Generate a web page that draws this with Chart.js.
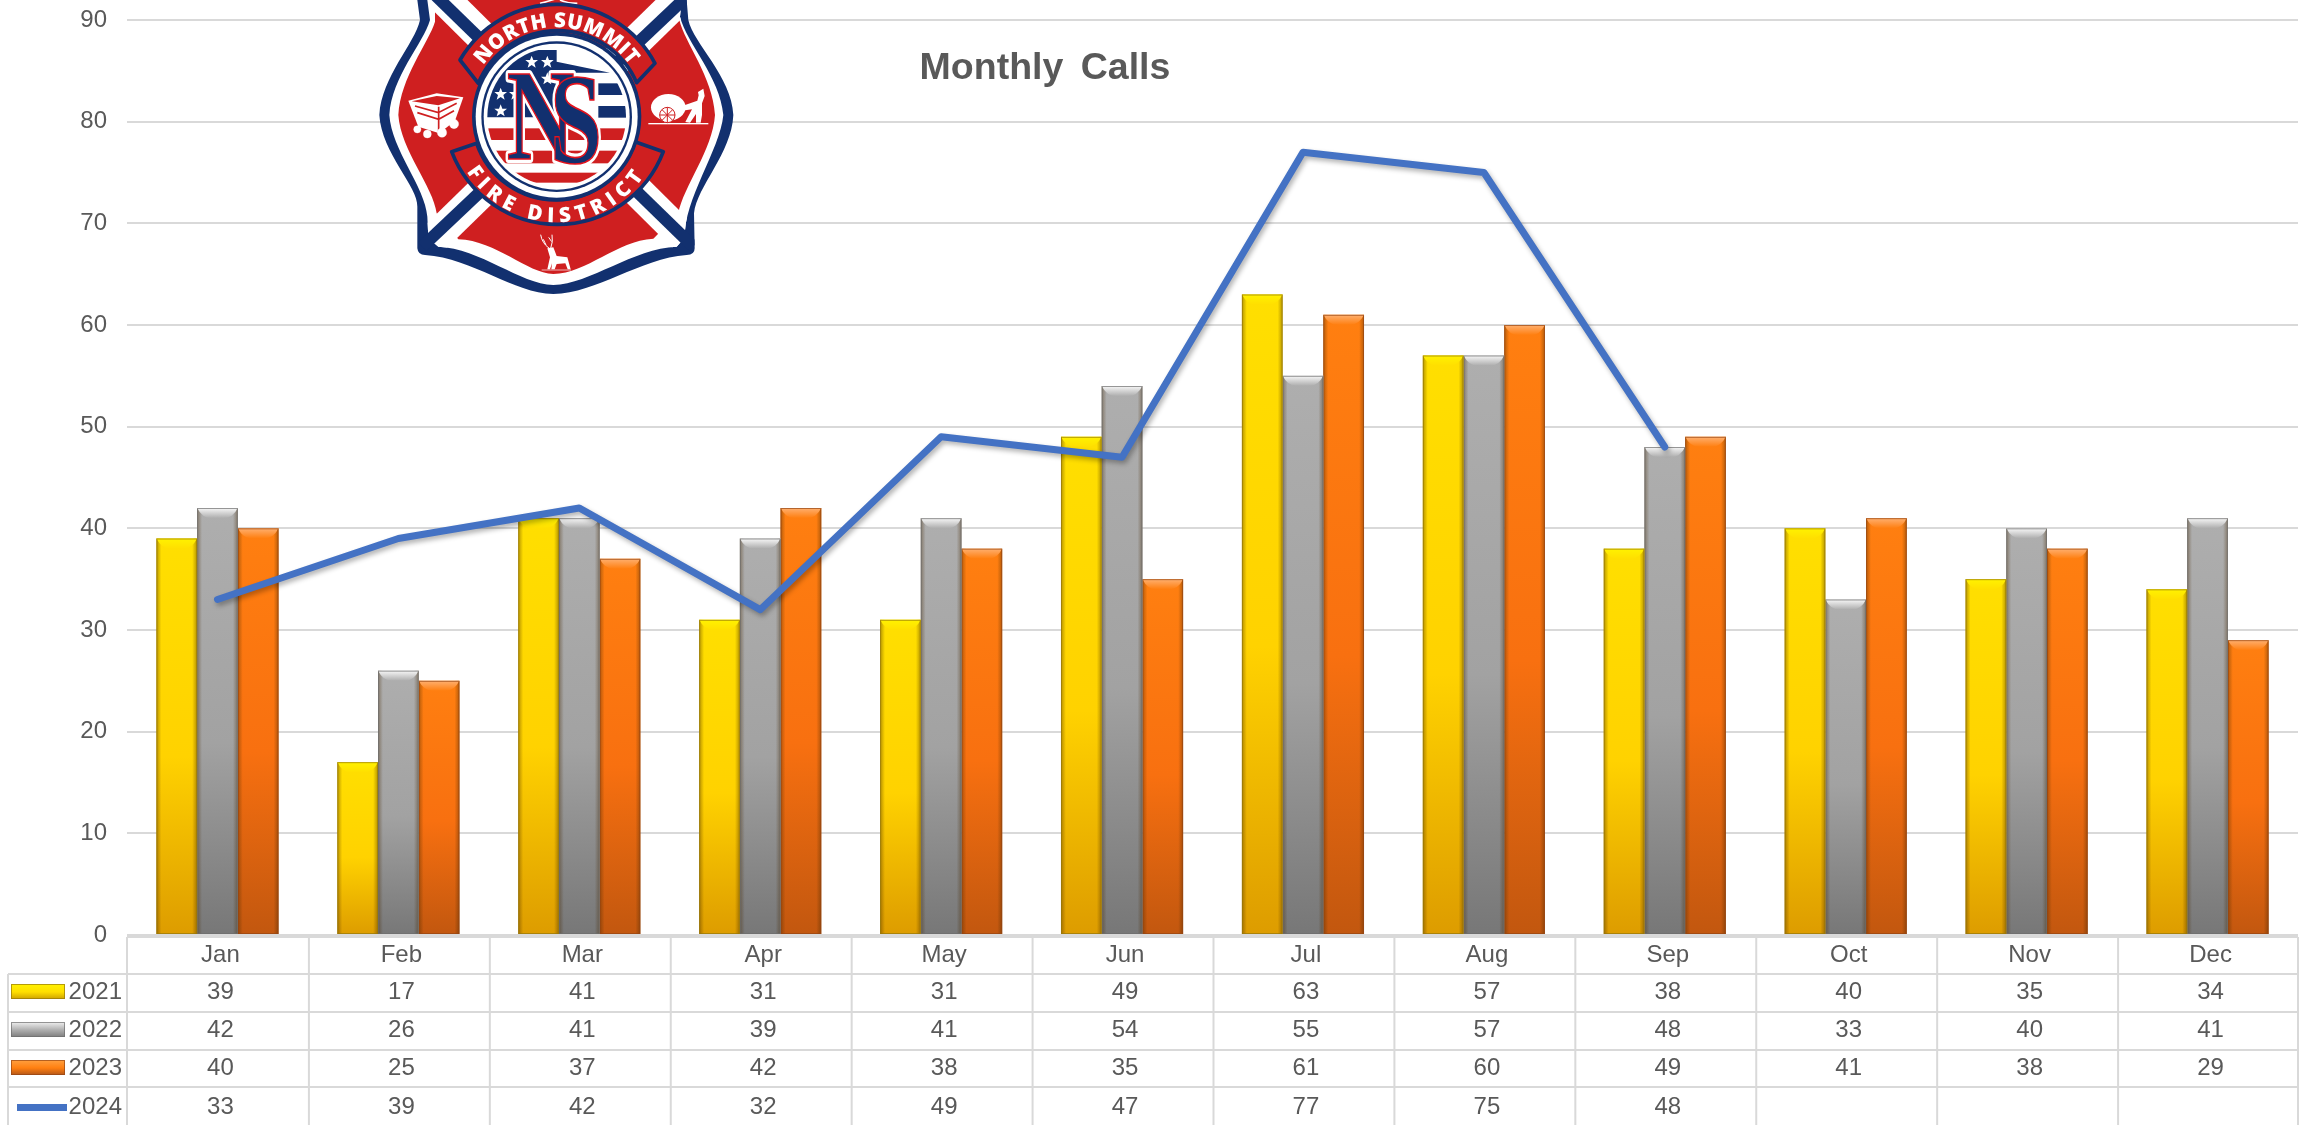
<!DOCTYPE html>
<html>
<head>
<meta charset="utf-8">
<title>Monthly Calls</title>
<script src="https://cdn.jsdelivr.net/npm/chart.js@4"></script>
<style>
    html, body { margin: 0; padding: 0; background: #fff; overflow: hidden; }
    #wrap { position: relative; width: 2305px; height: 1125px; }
    #callsChart { position: absolute; left: 0; top: 0; }
    #badge { position: absolute; left: 340px; top: 0; width: 450px; height: 310px; }
</style>
</head>
<body>
<div id="wrap">
<canvas id="callsChart" width="2305" height="1125"></canvas>

<!-- district badge -->
<svg id="badge" viewBox="0 0 1350 930" xmlns="http://www.w3.org/2000/svg">
    <defs>
        <path id="outerShape" d="M232,0 L240,60 C225,130 125,230 118,345 C125,460 235,560 232,620 L232,745 Q234,765 255,765 C400,775 520,880 640,882 C770,880 900,775 1040,765 Q1064,765 1064,745 L1062,640 C1070,560 1175,460 1180,345 C1175,230 1060,130 1045,60 L1040,0 Z"/>
        <path id="whiteShape" d="M262,0 L270,60 C250,130 155,230 148,345 C155,450 255,560 262,650 L265,715 L295,740 C420,745 540,852 640,855 C750,852 880,745 1010,740 L1035,712 C1030,600 1140,450 1150,345 C1140,230 1040,130 1020,50 L1025,0 Z"/>
        <clipPath id="outerClip"><use href="#outerShape"/></clipPath>
        <clipPath id="whiteClip"><use href="#whiteShape"/></clipPath>
        <clipPath id="flagClip"><circle cx="650" cy="350" r="208"/></clipPath>
        <polygon id="star" points="0,-19 5,-6 19,-6 8,3 12,17 0,9 -12,17 -8,3 -19,-6 -5,-6" fill="#fff"/>
        <path id="topArc" d="M391,281 A268,268 0 0 1 909,281" fill="none"/>
        <path id="bottomArc" d="M336,377 A315,315 0 0 0 964,377" fill="none"/>
    </defs>

    <use href="#outerShape" fill="#12306f"/>
    <use href="#whiteShape" fill="#fff"/>
    <path fill="#cf1f20" d="M285,0 L285,65 C265,130 182,230 175,345 C182,450 280,560 290,640 L355,718 C470,722 560,820 640,822 C740,820 830,722 940,716 L1015,640 C1030,560 1118,450 1125,345 C1118,230 1035,130 1018,60 L1018,0 Z"/>

    <g fill="none" clip-path="url(#whiteClip)">
        <path d="M300,-15 L1050,730" stroke="#fff" stroke-width="95"/>
        <path d="M1030,-15 L262,735" stroke="#fff" stroke-width="95"/>
    </g>
    <g fill="none" clip-path="url(#outerClip)">
        <path d="M285,-15 L1060,740" stroke="#12306f" stroke-width="36"/>
        <path d="M1045,-15 L247,740" stroke="#12306f" stroke-width="36"/>
    </g>

    <!-- antler tip cut by the top edge -->
    <path d="M600,10 Q640,0 650,-5 M660,0 Q680,10 712,10" stroke="#fff" stroke-width="5" fill="none"/>

    <!-- ribbons -->
    <path d="M360,180 A335,335 0 0 1 945,190 L890,248 A258,258 0 0 0 415,250 Z" fill="#cf1f20" stroke="#12306f" stroke-width="11" stroke-linejoin="round"/>
    <path d="M335,455 A340,340 0 0 0 970,455 L885,425 A250,250 0 0 1 410,430 Z" fill="#cf1f20" stroke="#12306f" stroke-width="11" stroke-linejoin="round"/>

    <!-- centre seal -->
    <circle cx="650" cy="350" r="254" fill="#12306f"/>
    <circle cx="650" cy="350" r="243" fill="#fff"/>
    <circle cx="650" cy="350" r="226" fill="#12306f"/>
    <circle cx="650" cy="350" r="219" fill="#fff"/>

    <text font-family="'Open Sans', 'Liberation Sans', sans-serif" font-weight="800" font-size="62" fill="#fff" text-anchor="middle" letter-spacing="1">
        <textPath href="#topArc" startOffset="50%">NORTH SUMMIT</textPath>
    </text>
    <text font-family="'Open Sans', 'Liberation Sans', sans-serif" font-weight="800" font-size="62" fill="#fff" text-anchor="middle" letter-spacing="17">
        <textPath href="#bottomArc" startOffset="50%">FIRE DISTRICT</textPath>
    </text>

    <g clip-path="url(#flagClip)">
        <rect x="440" y="385" width="420" height="35" fill="#cf1f20"/>
        <rect x="440" y="452" width="420" height="38" fill="#cf1f20"/>
        <rect x="440" y="518" width="420" height="30" fill="#cf1f20"/>
        <path d="M440,150 L650,150 L650,185 L810,218 L650,218 L650,352 L440,352 Z" fill="#12306f"/>
        <rect x="775" y="250" width="90" height="35" fill="#12306f"/>
        <rect x="775" y="318" width="90" height="35" fill="#12306f"/>
        <use href="#star" x="575" y="186"/>
        <use href="#star" x="622" y="186"/>
        <use href="#star" x="622" y="236"/>
        <use href="#star" x="482" y="282"/>
        <use href="#star" x="526" y="282"/>
        <use href="#star" x="482" y="332"/>
    </g>
    <g font-family="'Liberation Serif', serif" font-weight="700" font-size="390">
        <text transform="translate(500,478) scale(0.72,1)" fill="#fff" stroke="#fff" stroke-width="24" stroke-linejoin="round">N</text>
        <text transform="translate(630,488) scale(0.72,1)" fill="#fff" stroke="#fff" stroke-width="24" stroke-linejoin="round">S</text>
        <text transform="translate(500,478) scale(0.72,1)" fill="#12306f" stroke="#e3121c" stroke-width="5">N</text>
        <text transform="translate(630,488) scale(0.72,1)" fill="#12306f" stroke="#e3121c" stroke-width="5">S</text>
    </g>

    <!-- mine cart -->
    <g fill="#fff" stroke="#fff">
        <path d="M205,302 L290,280 L370,292 L345,362 L298,400 L235,380 Z" stroke="none"/>
        <path d="M225,318 L295,338 L350,310 M232,338 L296,358 L342,332 M296,320 L296,395" stroke="#cf1f20" stroke-width="5" fill="none"/>
        <path d="M215,304 L290,288 L360,295 L295,316 Z" fill="#cf1f20" stroke="none"/>
        <circle cx="232" cy="388" r="11"/><circle cx="262" cy="402" r="12"/>
        <circle cx="306" cy="398" r="14"/><circle cx="342" cy="372" r="14"/>
    </g>

    <!-- man pulling cart -->
    <g fill="#fff">
        <ellipse cx="985" cy="322" rx="52" ry="40"/>
        <path d="M1020,320 L1072,302 L1076,286 L1074,276 L1090,266 L1094,288 L1086,310 L1086,345 L1082,368 L1068,368 L1068,342 L1050,368 L1036,366 L1056,328 L1026,332 Z"/>
        <rect x="925" y="369" width="180" height="4"/>
        <g stroke="#cf1f20" stroke-width="3" fill="none">
            <circle cx="982" cy="345" r="23" fill="#fff"/>
            <path d="M982,322 L982,368 M959,345 L1005,345 M966,329 L998,361 M998,329 L966,361"/>
        </g>
    </g>

    <!-- deer -->
    <g fill="#fff" stroke="#fff">
        <path d="M622,745 L640,742 L650,768 L682,772 L692,808 L683,808 L676,790 L650,792 L644,808 L634,808 L636,790 L630,808 L622,808 L630,772 Z" stroke="none"/>
        <path d="M628,745 Q606,730 602,704 M618,735 L610,718 M632,745 Q640,725 636,704 M635,725 L626,712" stroke-width="3" fill="none"/>
        <rect x="605" y="809" width="88" height="2" stroke="none"/>
    </g>
</svg>
</div>

<script>
const months = ["Jan","Feb","Mar","Apr","May","Jun","Jul","Aug","Sep","Oct","Nov","Dec"];

const calls2021 = [39,17,41,31,31,49,63,57,38,40,35,34];
const calls2022 = [42,26,41,39,41,54,55,57,48,33,40,41];
const calls2023 = [40,25,37,42,38,35,61,60,49,41,38,29];
const calls2024 = [33,39,42,32,49,47,77,75,48,null,null,null];

const yTicks = [0,10,20,30,40,50,60,70,80,90];

const GRID = "#d9d9d9";
const TEXT = "#595959";
const FONT = "'Liberation Sans', Arial, sans-serif";

// colours for each bar series: gradient stops, top cap, edge
const barStyles = [
    { stops: ["#ffdf00","#ffd200","#dd9c00"], cap: "#fff200", edge: "rgba(150,120,10,0.7)", key: ["#fff200","#c79a00"] },
    { stops: ["#aeaeae","#a2a2a2","#777777"], cap: "#f8f8f8", edge: "rgba(110,110,110,0.7)", key: ["#f0f0f0","#777777"] },
    { stops: ["#ff7f10","#f87010","#c2570f"], cap: "#ffb070", edge: "rgba(150,70,20,0.7)", key: ["#ffa040","#a8501a"] }
];

// the first three rows of the table are the bars, the last one the line
const rows = [
    { label: "2021", values: calls2021 },
    { label: "2022", values: calls2022 },
    { label: "2023", values: calls2023 },
    { label: "2024", values: calls2024 }
];

function barFill(styleIndex){
    return context => {
        const chart = context.chart;
        const s = barStyles[styleIndex];
        if(!chart.chartArea || context.raw == null){
            return s.stops[0];
        }
        const top = chart.scales.y.getPixelForValue(context.raw);
        const bottom = chart.scales.y.getPixelForValue(0);
        const g = chart.ctx.createLinearGradient(0, top, 0, bottom);
        g.addColorStop(0, s.stops[0]);
        g.addColorStop(0.55, s.stops[1]);
        g.addColorStop(1, s.stops[2]);
        return g;
    };
}

// bevel on top of each bar and soft shadow under the line
const bevelPlugin = {
    id: "bevel",
    beforeDatasetDraw(chart, args){
        if(args.meta.type === "line"){
            const ctx = chart.ctx;
            ctx.save();
            ctx.shadowColor = "rgba(0,0,0,0.3)";
            ctx.shadowBlur = 5;
            ctx.shadowOffsetX = 2;
            ctx.shadowOffsetY = 3;
        }
    },
    afterDatasetDraw(chart, args){
        const ctx = chart.ctx;
        if(args.meta.type === "line"){
            ctx.restore();
            return;
        }
        const s = barStyles[args.index];
        args.meta.data.forEach(bar => {
            const left = bar.x - bar.width / 2;
            const right = bar.x + bar.width / 2;
            const top = bar.y;
            const bottom = bar.base;

            const side = ctx.createLinearGradient(left, 0, right, 0);
            side.addColorStop(0, "rgba(70,40,0,0.4)");
            side.addColorStop(0.12, "rgba(70,40,0,0)");
            side.addColorStop(0.88, "rgba(70,40,0,0)");
            side.addColorStop(1, "rgba(70,40,0,0.4)");
            ctx.fillStyle = side;
            ctx.fillRect(left, top, bar.width, bottom - top);

            const cap = ctx.createLinearGradient(0, top, 0, top + 10);
            cap.addColorStop(0, s.cap);
            cap.addColorStop(1, s.stops[0]);
            ctx.fillStyle = cap;
            ctx.beginPath();
            ctx.moveTo(left, top);
            ctx.lineTo(right, top);
            ctx.quadraticCurveTo(right - 5, top + 10, right - 14, top + 10);
            ctx.lineTo(left + 14, top + 10);
            ctx.quadraticCurveTo(left + 5, top + 10, left, top);
            ctx.fill();

            ctx.strokeStyle = s.edge;
            ctx.lineWidth = 1;
            ctx.strokeRect(left + 0.5, top + 0.5, bar.width - 1, bottom - top - 1);
        });
    }
};

// data table under the axis, columns come from the x scale
const tablePlugin = {
    id: "dataTable",
    afterDraw(chart){
        const ctx = chart.ctx;
        const x = chart.scales.x;
        const step = x.getPixelForTick(1) - x.getPixelForTick(0);
        const tableLeft = x.getPixelForTick(0) - step / 2;
        const tableRight = x.getPixelForTick(months.length - 1) + step / 2;
        const lines = [937, 974, 1012, 1050, 1087];
        const keyLeft = 8;
        const textShift = 3;

        ctx.save();
        ctx.strokeStyle = GRID;
        ctx.lineWidth = 2;
        ctx.beginPath();
        lines.forEach((y, i) => {
            ctx.moveTo(i === 0 ? tableLeft : keyLeft, y);
            ctx.lineTo(tableRight, y);
        });
        ctx.moveTo(keyLeft, lines[1]);
        ctx.lineTo(keyLeft, 1125);
        for(let i = 0; i <= months.length; i++){
            const cx = tableLeft + i * step + (i > 0 && i < months.length ? 1 : 0);
            ctx.moveTo(cx, lines[0]);
            ctx.lineTo(cx, 1125);
        }
        ctx.stroke();

        ctx.fillStyle = TEXT;
        ctx.font = "24px " + FONT;
        ctx.textAlign = "center";
        ctx.textBaseline = "middle";
        months.forEach((m, i) => {
            ctx.fillText(m, x.getPixelForTick(i) + textShift, 955);
        });

        const rowMid = [992, 1030, 1068, 1107];
        rows.forEach((row, r) => {
            ctx.textAlign = "center";
            ctx.fillStyle = TEXT;
            row.values.forEach((v, i) => {
                if(v !== null){
                    ctx.fillText(v, x.getPixelForTick(i) + textShift, rowMid[r]);
                }
            });
            ctx.textAlign = "right";
            ctx.fillText(row.label, 122, rowMid[r]);

            // legend key
            if(r < 3){
                const k = barStyles[r];
                const g = ctx.createLinearGradient(0, rowMid[r] - 8, 0, rowMid[r] + 8);
                g.addColorStop(0, k.key[0]);
                g.addColorStop(0.5, k.stops[0]);
                g.addColorStop(1, k.key[1]);
                ctx.fillStyle = g;
                ctx.fillRect(11, rowMid[r] - 8, 54, 15);
                ctx.strokeStyle = k.edge;
                ctx.lineWidth = 1;
                ctx.strokeRect(11.5, rowMid[r] - 7.5, 53, 14);
            } else {
                ctx.fillStyle = "#4472c4";
                ctx.fillRect(17, rowMid[r] - 3, 50, 7);
            }
        });

        // chart title
        ctx.fillStyle = TEXT;
        ctx.font = "bold 37.5px " + FONT;
        ctx.textAlign = "center";
        ctx.wordSpacing = "7px";
        ctx.fillText("Monthly Calls", 1045, 69);
        ctx.restore();
    }
};

const ctx = document.getElementById("callsChart");

new Chart(ctx, {
    data: {
        labels: months,
        datasets: [
            { type: "bar", label: "2021", data: calls2021, order: 1, backgroundColor: barFill(0), categoryPercentage: 0.675, barPercentage: 1 },
            { type: "bar", label: "2022", data: calls2022, order: 1, backgroundColor: barFill(1), categoryPercentage: 0.675, barPercentage: 1 },
            { type: "bar", label: "2023", data: calls2023, order: 1, backgroundColor: barFill(2), categoryPercentage: 0.675, barPercentage: 1 },
            { type: "line", label: "2024", data: calls2024, order: 0,
              borderColor: "#4472c4", borderWidth: 7, pointRadius: 0, tension: 0,
              borderCapStyle: "round", borderJoinStyle: "round", spanGaps: false }
        ]
    },
    options: {
        responsive: false,
        animation: false,
        layout: { padding: { top: 20, right: 7, bottom: 0, left: 0 } },
        plugins: {
            legend: { display: false },
            tooltip: { enabled: false },
            title: { display: false }
        },
        scales: {
            x: {
                grid: { display: false },
                border: { display: false },
                ticks: { display: false },
                afterFit(scale){ scale.height = 190; }
            },
            y: {
                min: 0,
                max: 90,
                afterBuildTicks(scale){ scale.ticks = yTicks.map(v => ({ value: v })); },
                afterFit(scale){
                    scale.width = 127;
                    // tick padding would otherwise push the plot top down
                    scale.paddingTop = 0;
                    scale.paddingBottom = 0;
                },
                grid: { color: GRID, lineWidth: 2, drawTicks: false },
                border: { display: false },
                ticks: {
                    color: TEXT,
                    padding: 20,
                    font: { family: FONT, size: 24 }
                }
            }
        }
    },
    plugins: [bevelPlugin, tablePlugin]
});
</script>
</body>
</html>
